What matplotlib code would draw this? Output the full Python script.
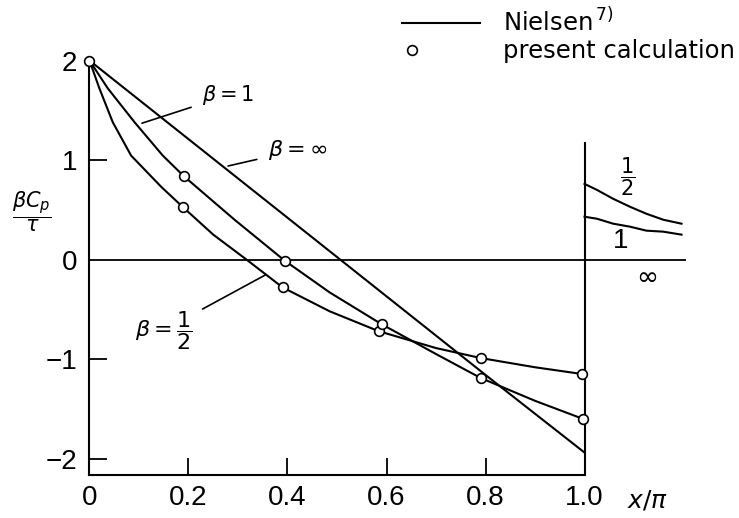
import matplotlib.pyplot as plt
from matplotlib.lines import Line2D
from matplotlib.legend_handler import HandlerLine2D

plt.rcParams['font.family'] = ['Liberation Sans', 'DejaVu Sans']
plt.rcParams['mathtext.fontset'] = 'dejavusans'

# Nielsen curves
inf_x = [0.0, 0.2, 0.4, 0.6, 0.8, 1.0]
inf_y = [2.0, 1.21, 0.42, -0.37, -1.16, -1.94]

one_x = [0.0, 0.037, 0.091, 0.148, 0.19, 0.293, 0.394, 0.485, 0.59, 0.70, 0.79, 0.90, 0.996]
one_y = [2.0, 1.72, 1.38, 1.045, 0.84, 0.40, -0.01, -0.33, -0.65, -0.95, -1.19, -1.42, -1.60]

half_x = [0.0, 0.020, 0.047, 0.084, 0.145, 0.188, 0.25, 0.317, 0.39, 0.485, 0.584, 0.70, 0.79, 0.90, 0.994]
half_y = [2.0, 1.72, 1.38, 1.045, 0.73, 0.53, 0.25, 0.0, -0.28, -0.52, -0.72, -0.89, -0.99, -1.083, -1.15]

# region behind the trailing edge
tail_x = [1.0, 1.025, 1.058, 1.092, 1.125, 1.159, 1.196]
tail_half = [0.76, 0.70, 0.61, 0.53, 0.46, 0.40, 0.36]
tail_one = [0.43, 0.41, 0.36, 0.33, 0.29, 0.28, 0.25]

# present calculation
calc_half_x = [0.0, 0.188, 0.39, 0.584, 0.79, 0.994]
calc_half_y = [2.0, 0.53, -0.28, -0.72, -0.99, -1.15]
calc_one_x = [0.19, 0.394, 0.59, 0.79, 0.996]
calc_one_y = [0.84, -0.01, -0.65, -1.19, -1.60]

xticks = [0, 0.2, 0.4, 0.6, 0.8, 1.0]
xlabels = ['0', '0.2', '0.4', '0.6', '0.8', '1.0']
yticks = [-2, -1, 0, 1, 2]
ylabels = ['\u22122', '\u22121', '0', '1', '2']


class LeftMarker(HandlerLine2D):
    # put the legend circle near the left end of the handle, like the original
    def get_xdata(self, legend, xdescent, ydescent, width, height, fontsize):
        xdata = [-xdescent, -xdescent + 0.26 * width]
        return xdata, xdata


fig = plt.figure(figsize=(7.39, 5.18), dpi=100)
ax = fig.add_axes([0.1211, 0.0822, 0.8708, 0.897])
ax.set_xlim(0, 1.3)
ax.set_ylim(-2.17, 2.5)

lw = 1.5
ax.plot(inf_x, inf_y, color='k', lw=lw)
ax.plot(one_x, one_y, color='k', lw=lw)
ax.plot(half_x, half_y, color='k', lw=lw)
ax.plot(tail_x, tail_half, color='k', lw=lw)
ax.plot(tail_x, tail_one, color='k', lw=lw)

ax.hlines(0, 0, 1.205, color='k', lw=1.3)
ax.vlines(1.0, -2.17, 1.18, color='k', lw=1.5)

mk = dict(ls='none', marker='o', ms=7, mfc='white', mec='k', mew=1.2, zorder=5, clip_on=False)
ax.plot(calc_half_x, calc_half_y, **mk)
ax.plot(calc_one_x, calc_one_y, **mk)

for s in ['top', 'right']:
    ax.spines[s].set_visible(False)
ax.spines['left'].set_bounds(-2.17, 2.0)
ax.spines['bottom'].set_bounds(0, 1.0)
ax.spines['left'].set_linewidth(1.5)
ax.spines['bottom'].set_linewidth(1.5)

ax.set_xticks(xticks)
ax.set_xticklabels(xlabels)
ax.set_yticks(yticks)
ax.set_yticklabels(ylabels)
ax.tick_params(axis='x', direction='in', length=12, width=1.3, pad=7, labelsize=20)
ax.tick_params(axis='y', direction='in', length=13, width=1.3, pad=9, labelsize=20)
for t in ax.yaxis.get_major_ticks():
    if t.get_loc() in (0, 2):
        t.tick1line.set_visible(False)

ax.text(-0.116, 0.48, r'$\dfrac{\beta C_p}{\tau}$', fontsize=15, ha='center', va='center')
ax.text(1.128, -2.42, r'$x/\pi$', fontsize=18, ha='center', va='center')

ann = dict(arrowprops=dict(arrowstyle='-', color='k', lw=1.2, shrinkA=6, shrinkB=0),
           va='center')
ax.annotate(r'$\beta=1$', xy=(0.106, 1.37), xytext=(0.227, 1.65), ha='left', fontsize=15, **ann)
ax.annotate(r'$\beta=\infty$', xy=(0.28, 0.94), xytext=(0.36, 1.10), ha='left', fontsize=16, **ann)
ax.annotate(r'$\beta=\dfrac{1}{2}$', xy=(0.355, -0.156), xytext=(0.208, -0.71), ha='right',
            fontsize=16, **ann)

ax.text(1.088, 0.83, r'$\dfrac{1}{2}$', fontsize=15, ha='center', va='center')
ax.text(1.072, 0.19, '1', fontsize=20, ha='center', va='center')
ax.text(1.126, -0.18, r'$\infty$', fontsize=19, ha='center', va='center')

h_line = Line2D([], [], color='k', lw=lw)
h_mark = Line2D([], [], ls='none', marker='o', ms=7, mfc='white', mec='k', mew=1.2)
ax.legend([h_line, h_mark], ['Nielsen$^{\\,7)}$', 'present calculation'], loc='upper left',
          bbox_to_anchor=(402 / 739, 1 - 8 / 518), bbox_transform=fig.transFigure,
          handler_map={h_mark: LeftMarker(numpoints=1)},
          frameon=False, prop={'family': 'DejaVu Sans', 'size': 17.5},
          handlelength=3.2, handletextpad=0.95, labelspacing=0.12,
          borderpad=0, borderaxespad=0)

fig.savefig('out.png', dpi=100)
